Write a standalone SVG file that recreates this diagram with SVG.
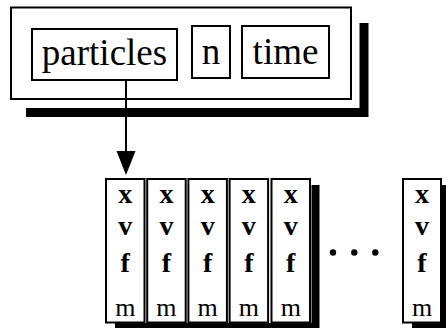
<svg xmlns="http://www.w3.org/2000/svg" width="446" height="328" viewBox="0 0 446 328">
<defs>
<style>
.box{fill:#fff;stroke:#000;stroke-width:2}
.shadow{fill:none;stroke:#000;stroke-linejoin:miter}
.t{font-family:"Liberation Serif","Times New Roman",serif;fill:#000;text-anchor:middle}
.big{font-size:37px}
.b{font-size:28px;font-weight:bold}
.m{font-size:26px}
</style>
</defs>
<g id="struct">
<polyline class="shadow" stroke-width="9" points="26,112.5 364,112.5 364,23"/>
<rect class="box" x="11" y="7.5" width="340" height="91.5"/>
</g>
<g id="particles">
<rect class="box" x="32" y="29" width="145" height="51"/>
<text class="t big" x="104.5" y="65">particles</text>
</g>
<g id="n">
<rect class="box" x="192" y="26" width="38" height="52"/>
<text class="t big" x="211" y="64">n</text>
</g>
<g id="time">
<rect class="box" x="242" y="26" width="87" height="52"/>
<text class="t big" x="285.5" y="64">time</text>
</g>
<g id="connectors">
<line x1="126" y1="80" x2="126" y2="152" stroke="#000" stroke-width="2"/>
<polygon points="116.5,151 135.5,151 126,175" fill="#000"/>
</g>
<g id="array">
<polyline class="shadow" stroke-width="8" points="115,327 315.5,327 315.5,185"/>
<g id="p1">
<rect class="box" x="106" y="179" width="38.5" height="143.5"/>
<text class="t b" x="125.25" y="203">x</text><text class="t b" x="125.25" y="235">v</text><text class="t b" x="125.25" y="272">f</text><text class="t m" x="125.25" y="316">m</text>
</g>
<g id="p2">
<rect class="box" x="147.2" y="179" width="38.5" height="143.5"/>
<text class="t b" x="166.45" y="203">x</text><text class="t b" x="166.45" y="235">v</text><text class="t b" x="166.45" y="272">f</text><text class="t m" x="166.45" y="316">m</text>
</g>
<g id="p3">
<rect class="box" x="188.4" y="179" width="38.5" height="143.5"/>
<text class="t b" x="207.65" y="203">x</text><text class="t b" x="207.65" y="235">v</text><text class="t b" x="207.65" y="272">f</text><text class="t m" x="207.65" y="316">m</text>
</g>
<g id="p4">
<rect class="box" x="229.6" y="179" width="38.5" height="143.5"/>
<text class="t b" x="248.85" y="203">x</text><text class="t b" x="248.85" y="235">v</text><text class="t b" x="248.85" y="272">f</text><text class="t m" x="248.85" y="316">m</text>
</g>
<g id="p5">
<rect class="box" x="271.5" y="179" width="38.5" height="143.5"/>
<text class="t b" x="290.75" y="203">x</text><text class="t b" x="290.75" y="235">v</text><text class="t b" x="290.75" y="272">f</text><text class="t m" x="290.75" y="316">m</text>
</g>
<g id="ellipsis">
<circle cx="333" cy="252.5" r="3.2" fill="#000"/>
<circle cx="354.3" cy="252.5" r="3.2" fill="#000"/>
<circle cx="375.3" cy="252.5" r="3.2" fill="#000"/>
</g>
<polyline class="shadow" stroke-width="8" points="412,327 445.5,327 445.5,185"/>
<g id="pN">
<rect class="box" x="403" y="179" width="38" height="143.5"/>
<text class="t b" x="422" y="203">x</text><text class="t b" x="422" y="235">v</text><text class="t b" x="422" y="272">f</text><text class="t m" x="422" y="316">m</text>
</g>
</g>
</svg>
